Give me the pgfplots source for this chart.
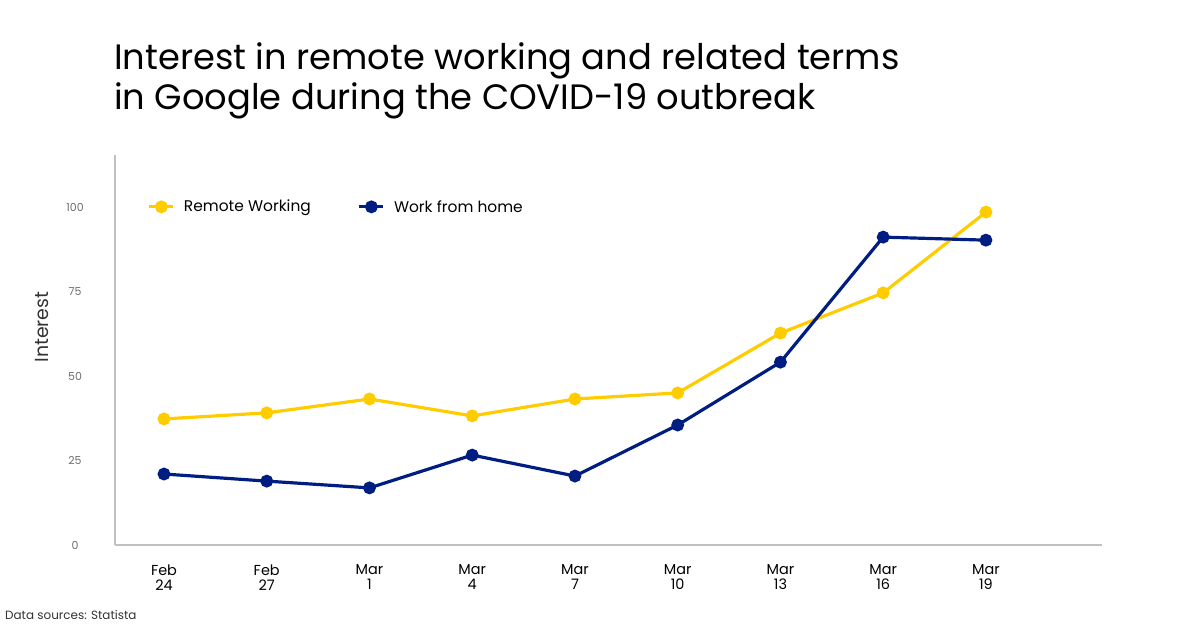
\documentclass[border=0pt]{standalone}
\usepackage{pgfplots}
\pgfplotsset{compat=1.18}
\usepackage{fontspec}
\setmainfont{Poppins}
\definecolor{rwyellow}{RGB}{255,204,0}
\definecolor{wfhblue}{RGB}{0,30,130}
\definecolor{axgray}{RGB}{192,192,192}
\definecolor{tickgray}{RGB}{110,110,110}
\begin{document}
\begin{tikzpicture}[x=1bp,y=1bp]
\path (0,0) rectangle (1200,627);
\node[anchor=base west, font=\fontsize{35.4}{40}\selectfont, inner sep=0] at (114,627-70) {Interest in remote working and related terms};
\node[anchor=base west, font=\fontsize{35.4}{40}\selectfont, inner sep=0] at (114,627-110) {in Google during the COVID-19 outbreak};
\node[anchor=base west, font=\fontsize{12}{14}\selectfont, text=black!80, inner sep=0] at (5,627-620) {Data sources: Statista};
\node[rotate=90, anchor=center, font=\fontsize{19}{20}\selectfont, text=black!80, inner sep=0] at (42,627-327) {Interest};
\begin{axis}[
  at={(115bp,82bp)}, anchor=south west,
  scale only axis, width=987bp, height=390bp,
  xmin=-0.477, xmax=9.13, ymin=0, ymax=115.4,
  axis x line*=bottom, axis y line*=left,
  axis line style={axgray, line width=2.5pt},
  xtick={0,...,8},
  xticklabels={{Feb\\24},{Feb\\27},{Mar\\1},{Mar\\4},{Mar\\7},{Mar\\10},{Mar\\13},{Mar\\16},{Mar\\19}},
  xticklabel style={align=center, font=\fontsize{14.5}{15}\selectfont, text=black},
  ytick={0,25,50,75,100},
  yticklabel style={font=\fontsize{11}{12}\selectfont, text=tickgray, anchor=center, xshift=-40bp},
  /pgf/number format/assume math mode=true,
  major tick length=0pt,
  xticklabel shift=16bp,
  legend style={at={(0.03,0.867)}, anchor=west, draw=none, fill=none, font=\fontsize{15.5}{17}\selectfont, /tikz/every even column/.append style={column sep=45bp}},
  legend columns=2,
  legend image code/.code={\draw[#1] (0bp,0bp) -- (24bp,0bp); \fill[#1] (12bp,0bp) circle (4.8bp); \path (31bp,0bp);},
  clip=false,
]
\addplot[rwyellow, line width=3.2pt, mark=*, mark size=4.8bp] coordinates {
(0,37.3) (1,39.1) (2,43.2) (3,38.2) (4,43.2) (5,45.0) (6,62.7) (7,74.6) (8,98.5)};
\addlegendentry{Remote Working}
\addplot[wfhblue, line width=3.2pt, mark=*, mark size=4.8bp] coordinates {
(0,21.0) (1,18.9) (2,16.9) (3,26.6) (4,20.4) (5,35.5) (6,54.1) (7,91.1) (8,90.2)};
\addlegendentry{Work from home}
\end{axis}
\end{tikzpicture}
\end{document}
